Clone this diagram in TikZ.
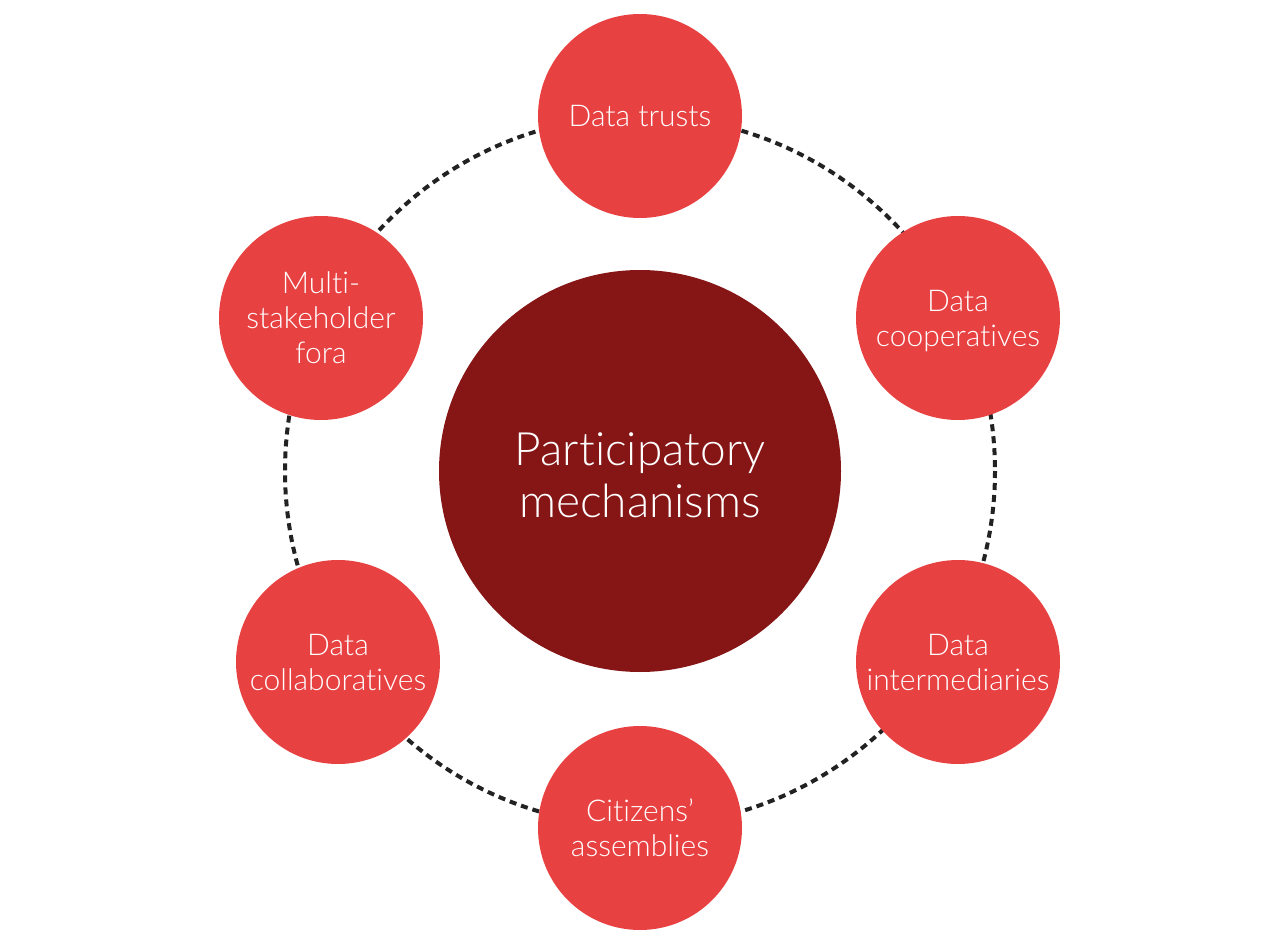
\documentclass[tikz,border=0pt]{standalone}
\usepackage{fontspec}
\setmainfont{Lato}[UprightFont={* Light}, Ligatures={CommonOff}]
\definecolor{smallred}{HTML}{E84142}
\definecolor{darkred}{HTML}{861616}
\definecolor{dashgray}{HTML}{222222}
\tikzset{
  item/.style={circle, fill=smallred, minimum size=204pt, inner sep=0pt, text=white, align=center, text depth=0pt, font=\fontsize{30}{35}\selectfont},
  hub/.style={circle, fill=darkred, minimum size=402pt, inner sep=0pt, text=white, align=center, text height=93pt, text depth=0pt, font=\fontsize{46}{52}\selectfont},
  ring/.style={draw=dashgray, line width=4pt, dash pattern=on 7pt off 5pt}
}
\begin{document}
\begin{tikzpicture}[x=1pt,y=-1pt]
\useasboundingbox (0,0) rectangle (1280,944);
\coordinate (c) at (640,471);
\draw[ring] (c) circle[radius=355];
\node[hub] (hubnode) at (c) {Participatory\\mechanisms};
\node[item] (trusts) at (640,116) {Data trusts};
\node[item] (coop) at (958,318) {Data\\cooperatives};
\node[item] (inter) at (958,662) {Data\\intermediaries};
\node[item] (citizens) at (640,828) {Citizens’\\assemblies};
\node[item] (collab) at (338,662) {Data\\collaboratives};
\node[item] (multi) at (321,318) {Multi-\\stakeholder\\fora};
\end{tikzpicture}
\end{document}
